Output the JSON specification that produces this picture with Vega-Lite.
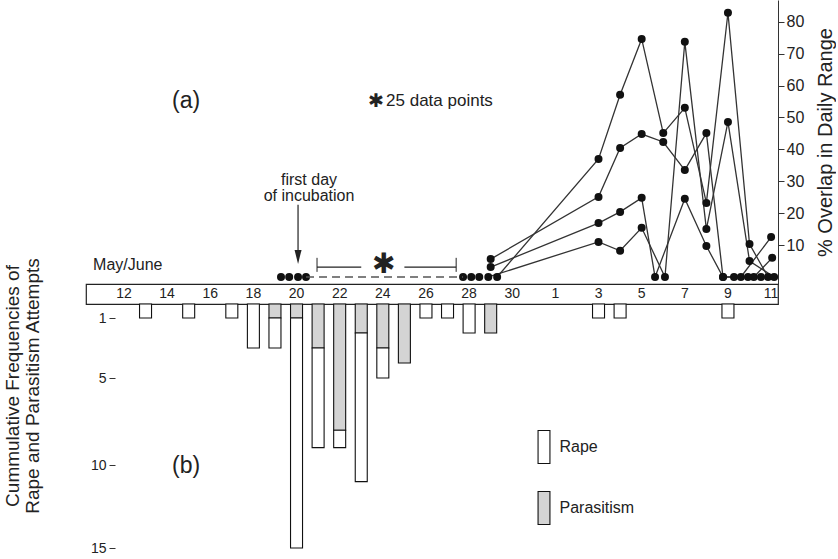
{
  "$schema": "https://vega.github.io/schema/vega-lite/v6.json",
  "background": "white",
  "padding": {"left": 4, "top": 0, "right": 0, "bottom": 0},
  "bounds": "flush",
  "spacing": 0,
  "config": {
    "font": "Liberation Sans",
    "view": {"stroke": null},
    "axis": {"grid": false, "labelColor": "#222", "titleColor": "#222", "tickColor": "#333", "domainColor": "#333", "titleFontWeight": "normal"},
    "text": {"color": "#222"}
  },
  "datasets": {
    "overlap": [
      {"s": "A", "d": 29.3, "v": 0}, {"s": "A", "d": 34, "v": 37.0}, {"s": "A", "d": 35, "v": 57.1}, {"s": "A", "d": 36, "v": 74.6}, {"s": "A", "d": 37, "v": 45.1}, {"s": "A", "d": 38, "v": 53.0}, {"s": "A", "d": 39, "v": 23.2}, {"s": "A", "d": 40, "v": 82.8}, {"s": "A", "d": 41, "v": 10.3}, {"s": "A", "d": 41.86, "v": 0},
      {"s": "B", "d": 29.0, "v": 5.6}, {"s": "B", "d": 34, "v": 25.1}, {"s": "B", "d": 35, "v": 40.4}, {"s": "B", "d": 36, "v": 44.8}, {"s": "B", "d": 37, "v": 42.3}, {"s": "B", "d": 38, "v": 33.5}, {"s": "B", "d": 39, "v": 45.1}, {"s": "B", "d": 39.77, "v": 0}, {"s": "B", "d": 40.6, "v": 0}, {"s": "B", "d": 42, "v": 12.5},
      {"s": "C", "d": 29.0, "v": 3.1}, {"s": "C", "d": 34, "v": 16.9}, {"s": "C", "d": 35, "v": 20.4}, {"s": "C", "d": 36, "v": 24.8}, {"s": "C", "d": 36.62, "v": 0}, {"s": "C", "d": 38, "v": 24.5}, {"s": "C", "d": 39, "v": 9.7}, {"s": "C", "d": 39.77, "v": 0}, {"s": "C", "d": 40.28, "v": 0}, {"s": "C", "d": 41.2, "v": 0}, {"s": "C", "d": 42.05, "v": 6.0},
      {"s": "D", "d": 28.89, "v": 0}, {"s": "D", "d": 34, "v": 11.0}, {"s": "D", "d": 35, "v": 8.2}, {"s": "D", "d": 36, "v": 15.4}, {"s": "D", "d": 37.08, "v": 0}, {"s": "D", "d": 38, "v": 73.7}, {"s": "D", "d": 39, "v": 15.0}, {"s": "D", "d": 40, "v": 48.6}, {"s": "D", "d": 41, "v": 5.0}, {"s": "D", "d": 42.14, "v": 0},
      {"s": "z", "d": 19.28, "v": 0}, {"s": "z", "d": 19.66, "v": 0}, {"s": "z", "d": 20.07, "v": 0}, {"s": "z", "d": 20.44, "v": 0},
      {"s": "z", "d": 27.72, "v": 0}, {"s": "z", "d": 28.1, "v": 0}, {"s": "z", "d": 28.47, "v": 0},
      {"s": "z", "d": 40.93, "v": 0}, {"s": "z", "d": 41.53, "v": 0}
    ],
    "attempts": [
      {"d": 13, "type": "Rape", "n": 1}, {"d": 15, "type": "Rape", "n": 1}, {"d": 17, "type": "Rape", "n": 1}, {"d": 18, "type": "Rape", "n": 3},
      {"d": 19, "type": "Parasitism", "n": 1}, {"d": 19, "type": "Rape", "n": 2},
      {"d": 20, "type": "Parasitism", "n": 1}, {"d": 20, "type": "Rape", "n": 14},
      {"d": 21, "type": "Parasitism", "n": 3}, {"d": 21, "type": "Rape", "n": 6},
      {"d": 22, "type": "Parasitism", "n": 8}, {"d": 22, "type": "Rape", "n": 1},
      {"d": 23, "type": "Parasitism", "n": 2}, {"d": 23, "type": "Rape", "n": 9},
      {"d": 24, "type": "Parasitism", "n": 3}, {"d": 24, "type": "Rape", "n": 2},
      {"d": 25, "type": "Parasitism", "n": 4},
      {"d": 26, "type": "Rape", "n": 1}, {"d": 27, "type": "Rape", "n": 1}, {"d": 28, "type": "Rape", "n": 2},
      {"d": 29, "type": "Parasitism", "n": 2},
      {"d": 34, "type": "Rape", "n": 1}, {"d": 35, "type": "Rape", "n": 1}, {"d": 40, "type": "Rape", "n": 1}
    ],
    "days": [
      {"d": 12, "lab": "12"}, {"d": 14, "lab": "14"}, {"d": 16, "lab": "16"}, {"d": 18, "lab": "18"}, {"d": 20, "lab": "20"},
      {"d": 22, "lab": "22"}, {"d": 24, "lab": "24"}, {"d": 26, "lab": "26"}, {"d": 28, "lab": "28"}, {"d": 30, "lab": "30"},
      {"d": 32, "lab": "1"}, {"d": 34, "lab": "3"}, {"d": 36, "lab": "5"}, {"d": 38, "lab": "7"}, {"d": 40, "lab": "9"}, {"d": 42, "lab": "11"}
    ]
  },
  "resolve": {"scale": {"x": "independent", "y": "independent", "fill": "independent"}, "legend": {"fill": "independent"}},
  "vconcat": [
    {
      "width": 692,
      "height": 284,
      "resolve": {"axis": {"x": "independent", "y": "independent"}},
      "layer": [
        {
          "data": {"name": "overlap"},
          "transform": [{"filter": "datum.s !== 'z'"}],
          "mark": {"type": "line", "color": "#333", "strokeWidth": 1.3},
          "encoding": {
            "x": {"field": "d", "type": "quantitative", "scale": {"domain": [10.24, 42.32], "nice": false, "zero": false, "padding": 0}, "axis": null},
            "y": {
              "field": "v", "type": "quantitative", "title": "% Overlap in Daily Range",
              "scale": {"domain": [-2.2, 86.8], "nice": false, "zero": false},
              "axis": {"orient": "right", "values": [10, 20, 30, 40, 50, 60, 70, 80], "tickSize": 6, "labelPadding": 2, "labelFontSize": 16, "titleFontSize": 20, "titleAngle": -90, "titleBaseline": "top", "titlePadding": 12}
            },
            "detail": {"field": "s", "type": "nominal"}
          }
        },
        {
          "data": {"name": "overlap"},
          "mark": {"type": "point", "filled": true, "size": 64, "color": "#111", "opacity": 1},
          "encoding": {"x": {"field": "d", "type": "quantitative", "axis": null}, "y": {"field": "v", "type": "quantitative", "axis": null}}
        },
        {
          "data": {"values": [{}]},
          "mark": {"type": "rule", "strokeDash": [8, 5], "color": "#555", "strokeWidth": 1.5},
          "encoding": {"x": {"datum": 20.44, "axis": null}, "x2": {"datum": 27.72}, "y": {"datum": 0, "axis": null}}
        },
        {
          "data": {"values": [{}]},
          "mark": {"type": "rule", "color": "#222", "strokeWidth": 1.2},
          "encoding": {"x": {"datum": 20.07, "axis": null}, "y": {"datum": 22.6, "axis": null}, "y2": {"datum": 6.9}}
        },
        {
          "data": {"values": [{}]},
          "mark": {"type": "point", "shape": "M-0.5,-1L0.5,-1L0,1Z", "filled": true, "size": 196, "color": "#222", "opacity": 1},
          "encoding": {"x": {"datum": 20.07, "axis": null}, "y": {"datum": 6.3, "axis": null}}
        },
        {
          "data": {"values": [{}]},
          "mark": {"type": "rule", "color": "#222", "strokeWidth": 1},
          "encoding": {"x": {"datum": 20.95, "axis": null}, "y": {"datum": 6.0, "axis": null}, "y2": {"datum": 1.6}}
        },
        {
          "data": {"values": [{}]},
          "mark": {"type": "rule", "color": "#222", "strokeWidth": 1},
          "encoding": {"x": {"datum": 27.4, "axis": null}, "y": {"datum": 6.0, "axis": null}, "y2": {"datum": 1.6}}
        },
        {
          "data": {"values": [{}]},
          "mark": {"type": "rule", "color": "#222", "strokeWidth": 1.2},
          "encoding": {"x": {"datum": 20.95, "axis": null}, "x2": {"datum": 23.0}, "y": {"datum": 3.1, "axis": null}}
        },
        {
          "data": {"values": [{}]},
          "mark": {"type": "rule", "color": "#222", "strokeWidth": 1.2},
          "encoding": {"x": {"datum": 25.0, "axis": null}, "x2": {"datum": 27.4}, "y": {"datum": 3.1, "axis": null}}
        },
        {
          "data": {"values": [{}]},
          "mark": {"type": "text", "fontSize": 28},
          "encoding": {"x": {"datum": 24.05, "axis": null}, "y": {"datum": 3.8, "axis": null}, "text": {"value": "✱"}}
        },
        {
          "data": {"values": [{}]},
          "mark": {"type": "text", "fontSize": 23},
          "encoding": {"x": {"datum": 14.88, "axis": null}, "y": {"datum": 55.2, "axis": null}, "text": {"value": "(a)"}}
        },
        {
          "data": {"values": [{}]},
          "mark": {"type": "text", "fontSize": 19},
          "encoding": {"x": {"datum": 23.69, "axis": null}, "y": {"datum": 55.2, "axis": null}, "text": {"value": "✱"}}
        },
        {
          "data": {"values": [{}]},
          "mark": {"type": "text", "fontSize": 17, "align": "left"},
          "encoding": {"x": {"datum": 24.15, "axis": null}, "y": {"datum": 55.2, "axis": null}, "text": {"value": "25 data points"}}
        },
        {
          "data": {"values": [{}]},
          "mark": {"type": "text", "fontSize": 16},
          "encoding": {"x": {"datum": 20.58, "axis": null}, "y": {"datum": 30.4, "axis": null}, "text": {"value": "first day"}}
        },
        {
          "data": {"values": [{}]},
          "mark": {"type": "text", "fontSize": 16},
          "encoding": {"x": {"datum": 20.58, "axis": null}, "y": {"datum": 25.4, "axis": null}, "text": {"value": "of incubation"}}
        },
        {
          "data": {"values": [{}]},
          "mark": {"type": "text", "fontSize": 16, "align": "left"},
          "encoding": {"x": {"datum": 10.57, "axis": null}, "y": {"datum": 3.8, "axis": null}, "text": {"value": "May/June"}}
        }
      ]
    },
    {
      "width": 692,
      "height": 20,
      "view": {"stroke": "#222", "strokeWidth": 1.2},
      "data": {"name": "days"},
      "mark": {"type": "text", "fontSize": 14, "baseline": "middle"},
      "encoding": {
        "x": {"field": "d", "type": "quantitative", "scale": {"domain": [10.24, 42.32], "nice": false, "zero": false, "padding": 0}, "axis": null},
        "text": {"field": "lab", "type": "nominal"}
      }
    },
    {
      "width": 692,
      "height": 255,
      "resolve": {"axis": {"x": "independent", "y": "independent"}},
      "layer": [
        {
          "data": {"name": "attempts"},
          "mark": {"type": "bar", "size": 12, "stroke": "#111", "strokeWidth": 1.1},
          "encoding": {
            "x": {"field": "d", "type": "quantitative", "scale": {"domain": [10.24, 42.32], "nice": false, "zero": false, "padding": 0}, "axis": null},
            "y": {
              "field": "n", "type": "quantitative", "stack": "zero",
              "scale": {"domain": [0, 1, 5, 10, 15], "range": [0, 14, 74, 161, 244], "nice": false, "zero": false},
              "axis": {"orient": "left", "offset": -29, "title": null, "values": [1, 5, 10, 15], "domain": false, "tickSize": 6, "labelPadding": 3, "labelFontSize": 14}
            },
            "fill": {
              "field": "type", "type": "nominal",
              "scale": {"domain": ["Rape", "Parasitism"], "range": ["#ffffff", "#d4d4d4"]},
              "legend": {"orient": "none", "legendX": 440.5, "legendY": 125.5, "title": null, "symbolType": "M-0.36,-1H0.36V1H-0.36Z", "symbolSize": 1089, "symbolStrokeColor": "#111", "symbolStrokeWidth": 1.1, "labelFontSize": 16, "labelColor": "#222", "labelOffset": -2, "rowPadding": 22, "padding": 0}
            },
            "order": {"field": "type", "type": "nominal", "sort": "ascending"}
          }
        },
        {
          "data": {"values": [{}]},
          "mark": {"type": "text", "fontSize": 23},
          "encoding": {"x": {"datum": 14.88, "axis": null}, "y": {"datum": 10.06, "axis": null}, "text": {"value": "(b)"}}
        },
        {
          "data": {"values": [{}]},
          "mark": {"type": "text", "fontSize": 19, "angle": 270, "align": "center", "baseline": "top", "lineHeight": 20},
          "encoding": {"x": {"datum": 6.44, "axis": null}, "y": {"datum": 5.46, "axis": null}, "text": {"value": ["Cummulative Frequencies of", "Rape and Parasitism Attempts"]}}
        }
      ]
    }
  ]
}
